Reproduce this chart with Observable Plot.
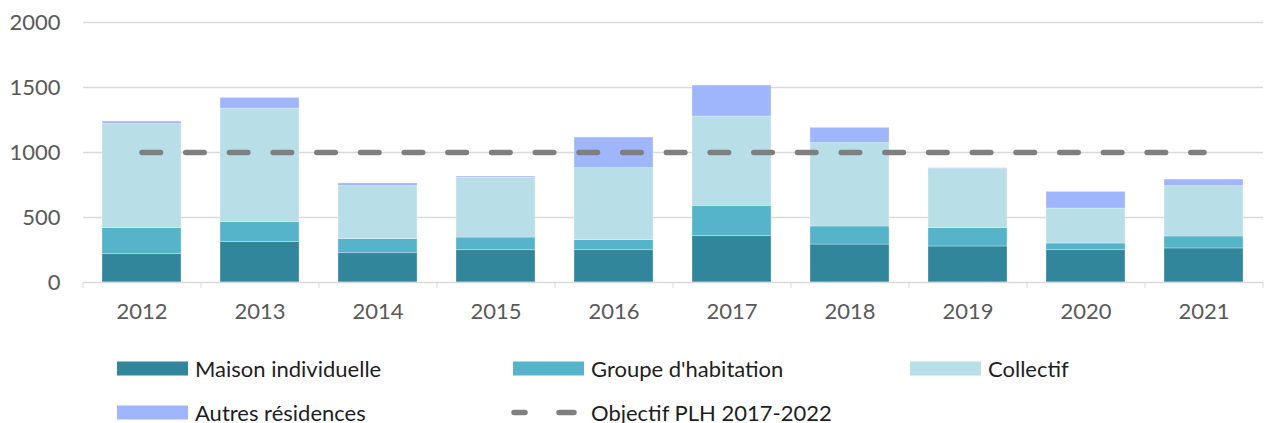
<!DOCTYPE html>
<html><head><meta charset="utf-8">
<script src="https://cdn.jsdelivr.net/npm/d3@7"></script>
<script src="https://cdn.jsdelivr.net/npm/@observablehq/plot@0.6"></script>
<style>
body{margin:0;background:#fff;font-family:Lato, "Open Sans", sans-serif;}
#legend{position:relative;width:1264px;height:83px;font-size:22px;color:#1e1e1e}
.item{position:absolute;display:flex;align-items:center;white-space:nowrap;transform:translateY(-50%)}
.sw{width:71px;height:14px;margin-right:7px;flex:none}
</style></head><body><div id="chart"></div><div id="legend"></div>
<script>
const years = ["2012","2013","2014","2015","2016","2017","2018","2019","2020","2021"];
const maison = [218,313,225,248,248,356,292,277,248,262];
const groupe = [200,151,108,98,78,234,139,141,52,92];
const collectif = [802,874,408,459,553,687,641,454,269,387];
const autres = [18,82,21,10,236,238,118,7,128,51];
const objectif = [1000,1000,1000,1000,1000,1000,1000,1000,1000,1000];
const seriesNames = ["Maison individuelle","Groupe d'habitation","Collectif","Autres résidences"];
const seriesColors = ["#31869b","#55b3ca","#b8dee8","#9fb5fc"];
const objName = "Objectif PLH 2017-2022";
const yTicks = [0,500,1000,1500,2000];

const seriesValues = [maison, groupe, collectif, autres];
const table = [];
seriesNames.forEach((s,i)=>years.forEach((y,j)=>table.push({year:y, series:s, value:seriesValues[i][j]})));
const objTable = years.map((y,j)=>({year:y, value:objectif[j]}));

const W = 1264, mL = 83, mR = 1;
const half = (W - mL - mR) / years.length / 2;

const chart = Plot.plot({
  width: W, height: 340,
  marginTop: 22, marginBottom: 58, marginLeft: mL, marginRight: mR,
  style: {fontFamily: "Lato, 'Open Sans', sans-serif", fontSize: "22px", color: "#595959", background: "#fff"},
  x: {type: "band", domain: years, paddingInner: 0.33, paddingOuter: 0.165, label: null, axis: null},
  y: {domain: [0,2000], label: null, axis: null},
  color: {domain: seriesNames, range: seriesColors},
  marks: [
    Plot.ruleY(yTicks.slice(1), {stroke: "#d9d9d9", strokeWidth: 1.3}),
    Plot.barY(table, {x: "year", y: "value", fill: "series", order: seriesNames, stroke: "#ffffff", strokeOpacity: 0.5, strokeWidth: 0.6}),
    Plot.ruleY([0], {stroke: "#d9d9d9", strokeWidth: 1.5}),
    Plot.lineY(objTable, {x: "year", y: "value", stroke: "#7f7f7f", strokeWidth: 5.5, strokeDasharray: "18.5 25.2", strokeLinecap: "round"}),
    Plot.axisX({tickSize: 0, tickPadding: 21, fill: "#595959", label: null}),
    Plot.axisX({tickSize: 6, text: null, dx: -half, stroke: "#d9d9d9", label: null}),
    Plot.axisX({ticks: [years[years.length-1]], tickSize: 6, text: null, dx: half, stroke: "#d9d9d9", label: null}),
    Plot.axisY({ticks: yTicks, tickSize: 0, tickPadding: 23, tickFormat: d => String(d), fill: "#595959", label: null})
  ]
});
document.getElementById("chart").appendChild(chart);

const legend = document.getElementById("legend");
const items = [
  {name: seriesNames[0], color: seriesColors[0], left: 117, top: 28},
  {name: seriesNames[1], color: seriesColors[1], left: 513, top: 28},
  {name: seriesNames[2], color: seriesColors[2], left: 910, top: 28},
  {name: seriesNames[3], color: seriesColors[3], left: 117, top: 72},
  {name: objName, dash: true, left: 510, top: 72}
];
items.forEach(it => {
  const d = document.createElement("div");
  d.className = "item";
  d.style.left = it.left + "px";
  d.style.top = it.top + "px";
  if (it.dash) {
    d.innerHTML = `<svg width="71" height="14" style="margin-right:10px;flex:none"><line x1="4" x2="64" y1="7" y2="7" stroke="#7f7f7f" stroke-width="5.5" stroke-linecap="round" stroke-dasharray="11 34 16"/></svg><span>${it.name}</span>`;
  } else {
    d.innerHTML = `<div class="sw" style="background:${it.color}"></div><span>${it.name}</span>`;
  }
  legend.appendChild(d);
});
</script>
</body></html>
